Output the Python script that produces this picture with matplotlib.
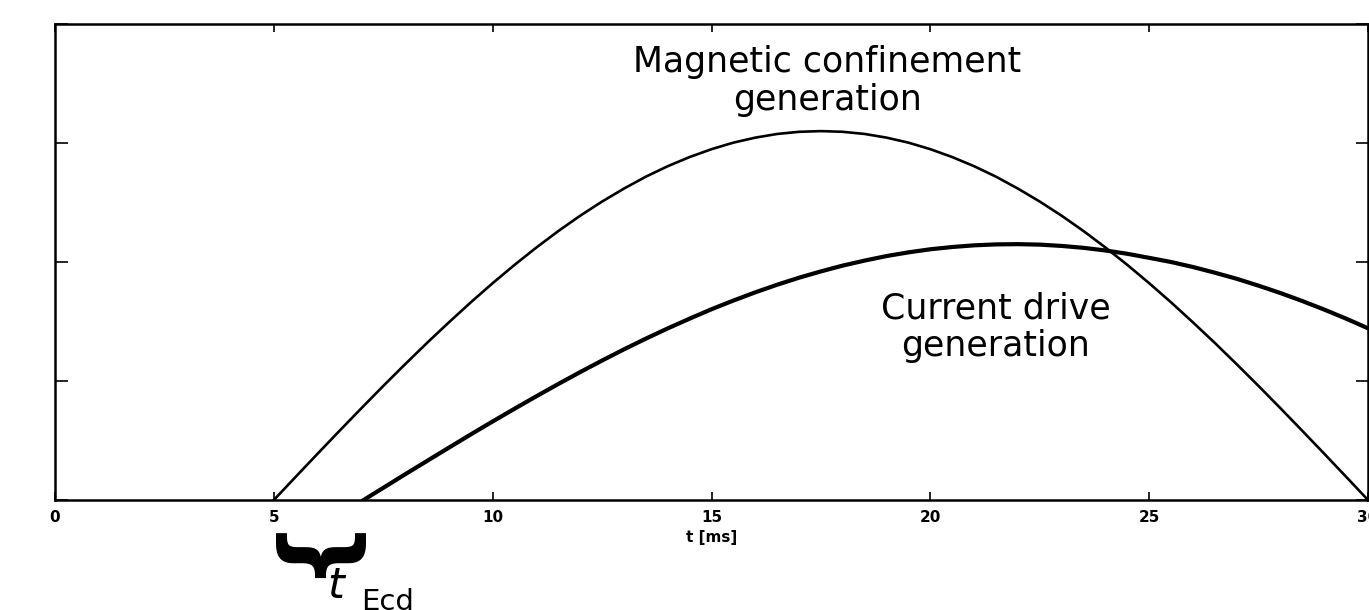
import matplotlib
matplotlib.use('Agg')
import matplotlib.pyplot as plt

# Data (t in ms, arbitrary units on y)
t_mag = [5, 5.5, 6, 6.5, 7, 7.5, 8, 8.5, 9, 9.5, 10, 10.5, 11, 11.5, 12, 12.5,
         13, 13.5, 14, 14.5, 15, 15.5, 16, 16.5, 17, 17.5, 18, 18.5, 19, 19.5,
         20, 20.5, 21, 21.5, 22, 22.5, 23, 23.5, 24, 24.5, 25, 25.5, 26, 26.5,
         27, 27.5, 28, 28.5, 29, 29.5, 30]
mag = [0.000, 0.195, 0.389, 0.581, 0.771, 0.958, 1.141, 1.320, 1.493, 1.661,
       1.822, 1.976, 2.122, 2.260, 2.389, 2.508, 2.617, 2.717, 2.805, 2.882,
       2.948, 3.003, 3.045, 3.076, 3.094, 3.100, 3.094, 3.076, 3.045, 3.003,
       2.948, 2.882, 2.805, 2.717, 2.617, 2.508, 2.389, 2.260, 2.122, 1.976,
       1.822, 1.661, 1.493, 1.320, 1.141, 0.958, 0.771, 0.581, 0.389, 0.195,
       0.000]

t_cd = [7.05, 7.5, 8, 8.5, 9, 9.5, 10, 10.5, 11, 11.5, 12, 12.5, 13, 13.5, 14,
        14.5, 15, 15.5, 16, 16.5, 17, 17.5, 18, 18.5, 19, 19.5, 20, 20.5, 21,
        21.5, 22, 22.5, 23, 23.5, 24, 24.5, 25, 25.5, 26, 26.5, 27, 27.5, 28,
        28.5, 29, 29.5, 30]
cd = [0.000, 0.102, 0.216, 0.328, 0.440, 0.551, 0.660, 0.767, 0.872, 0.975,
      1.075, 1.172, 1.266, 1.356, 1.442, 1.524, 1.603, 1.676, 1.745, 1.809,
      1.868, 1.921, 1.970, 2.012, 2.050, 2.081, 2.107, 2.126, 2.140, 2.148,
      2.150, 2.146, 2.135, 2.119, 2.097, 2.069, 2.035, 2.000, 1.958, 1.910,
      1.859, 1.801, 1.739, 1.672, 1.600, 1.524, 1.443]

xticks = [0, 5, 10, 15, 20, 25, 30]
yticks = [0, 1, 2, 3, 4]

fig = plt.figure(figsize=(13.69, 6.10), dpi=100)
ax = fig.add_axes([55 / 1369, 1 - 500 / 610, 1313 / 1369, 476 / 610])

ax.plot(t_mag, mag, color='black', lw=1.9)
ax.plot(t_cd, cd, color='black', lw=3.0)

ax.set_xlim(0, 30)
ax.set_ylim(0, 4)
ax.set_xticks(xticks)
ax.set_yticks(yticks)
ax.set_yticklabels([])

ax.tick_params(axis='x', direction='in', top=True, length=6, width=1.2,
               labelsize=11, pad=7)
ax.tick_params(axis='y', direction='in', right=True, length=9, width=1.2)
for lab in ax.get_xticklabels():
    lab.set_fontweight('bold')
for s in ax.spines.values():
    s.set_linewidth(1.8)

ax.set_xlabel('t [ms]', fontsize=11, fontweight='bold', labelpad=4)

ax.text(17.65, 3.52, 'Magnetic confinement\ngeneration', ha='center', va='center',
        fontsize=25, linespacing=1.13)
ax.text(21.5, 1.45, 'Current drive\ngeneration', ha='center', va='center',
        fontsize=25, linespacing=1.13)

# brace marking the current drive delay
ax.text(5.75, -0.56, '}', rotation=-90, ha='center', va='center',
        fontsize=70, fontweight='bold', clip_on=False)
ax.text(6.45, -0.72, '$t$', ha='center', va='center', fontsize=31, clip_on=False)
ax.text(7.6, -0.86, 'Ecd', ha='center', va='center', fontsize=21, clip_on=False)

plt.savefig('out.png', dpi=100, facecolor='white')
